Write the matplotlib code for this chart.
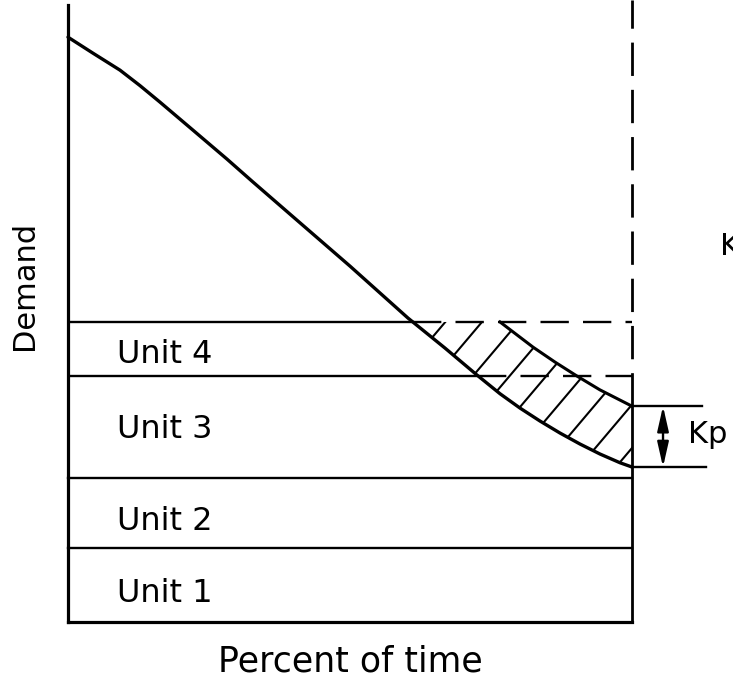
import numpy as np
import matplotlib
matplotlib.use("Agg")
import matplotlib.pyplot as plt
from matplotlib.patches import Polygon

plt.rcParams['font.family'] = ['DejaVu Sans']

# load duration curve (percent of time, demand)
pct = [0, 4.43, 9.22, 12.77, 16.31, 22.16, 28.19, 32.62, 39.36, 50.0, 60.28,
       66.84, 72.52, 76.6, 80.14, 83.69, 87.23, 90.78, 94.33, 97.87, 100]
demand = [100.0, 97.26, 94.36, 91.71, 88.89, 84.10, 79.15, 75.38, 69.74, 60.85, 51.97,
          46.84, 42.22, 39.03, 36.58, 34.36, 32.31, 30.43, 28.72, 27.23, 26.5]

# upper edge of the hatched (shortfall) area
upper_pct = [76.6, 82.45, 86.35, 90.25, 94.3, 100]
upper_demand = [51.3, 47.0, 44.44, 42.05, 39.7, 36.9]

# tops of the stacked units
unit_names = ["Unit 1", "Unit 2", "Unit 3", "Unit 4"]
unit_tops = [12.65, 24.6, 42.05, 51.3]

ymax = 105.5

fig = plt.figure(figsize=(7.33, 6.78), dpi=100)
ax = fig.add_axes([68 / 733, 1 - 622 / 678, 564 / 733, 617 / 678])
ax.set_xlim(0, 100)
ax.set_ylim(0, ymax)
ax.set_xticks([])
ax.set_yticks([])
for s in ['top', 'right']:
    ax.spines[s].set_visible(False)
ax.spines['left'].set_linewidth(2.3)
ax.spines['bottom'].set_linewidth(2.3)

# crossing points of the curve with the unit tops
pr, dr = np.array(pct)[::-1], np.array(demand)[::-1]
cross = [np.interp(t, dr, pr) for t in unit_tops]

# unit boundaries: solid up to the curve, dashed beyond for units 3 and 4
for i, top in enumerate(unit_tops):
    if i < 2:
        ax.plot([0, 100], [top, top], color='k', lw=1.7, clip_on=False)
    else:
        ax.plot([0, cross[i]], [top, top], color='k', lw=1.7)
        ax.plot([cross[i], 100], [top, top], color='k', lw=1.7, dashes=(12, 6),
                clip_on=False)

# right edge: solid up to the top of Kp, dashed above
ax.plot([100, 100], [0, upper_demand[-1]], color='k', lw=2.0, clip_on=False)
ax.plot([100, 100], [upper_demand[-1], 622 / 5.85], color='k', lw=2.0,
        dashes=(12, 5), clip_on=False)

# the load curve and the upper edge of the hatched area
ax.plot(pct, demand, color='k', lw=2.4, solid_capstyle='round',
        solid_joinstyle='round', clip_on=False)
ax.plot(upper_pct, upper_demand, color='k', lw=2.2, solid_joinstyle='round',
        clip_on=False)

# hatched area bounded by curve, right edge, upper curve and unit 4 top
poly = [(cross[3], unit_tops[3])]
poly += [(p, d) for p, d in zip(pct, demand) if p > cross[3]]
poly += list(zip(upper_pct, upper_demand))[::-1]
patch = Polygon(poly, closed=True, facecolor='none', edgecolor='none')
ax.add_patch(patch)

slope = 1.14
ys = np.array([15, 60])
for off in np.arange(-6, 8) * 6.5:
    x0 = 73.4 + off
    ln, = ax.plot(x0 + (ys - 51.3) / slope, ys, color='k', lw=1.5)
    ln.set_clip_path(patch)

# Kp dimension
ax.plot([100, 112.4], [upper_demand[-1]] * 2, color='k', lw=1.7, clip_on=False)
ax.plot([100, 113.1], [demand[-1]] * 2, color='k', lw=1.7, clip_on=False)
ax.annotate('', xy=(105.5, upper_demand[-1]), xytext=(105.5, demand[-1]),
            arrowprops=dict(arrowstyle='<|-|>,head_length=0.75,head_width=0.17',
                            color='k', lw=1.7, shrinkA=0, shrinkB=0,
                            mutation_scale=20),
            annotation_clip=False)
ax.text(109.9, 30.6, "Kp", fontsize=22, ha='left', va='baseline', clip_on=False)
ax.text(115.6, 62.7, "K", fontsize=22, ha='left', va='baseline', clip_on=False)

# unit labels
label_base = [3.4, 15.7, 31.4, 44.3]
for name, yb in zip(unit_names, label_base):
    ax.text(8.7, yb, name, fontsize=23, ha='left', va='baseline')

fig.text(350 / 733, 6 / 678, "Percent of time", fontsize=25, ha='center', va='baseline')
fig.text(25 / 733, 1 - 285 / 678, "Demand", fontsize=22, rotation=90,
         ha='center', va='center')

fig.savefig("out.png", dpi=100)
